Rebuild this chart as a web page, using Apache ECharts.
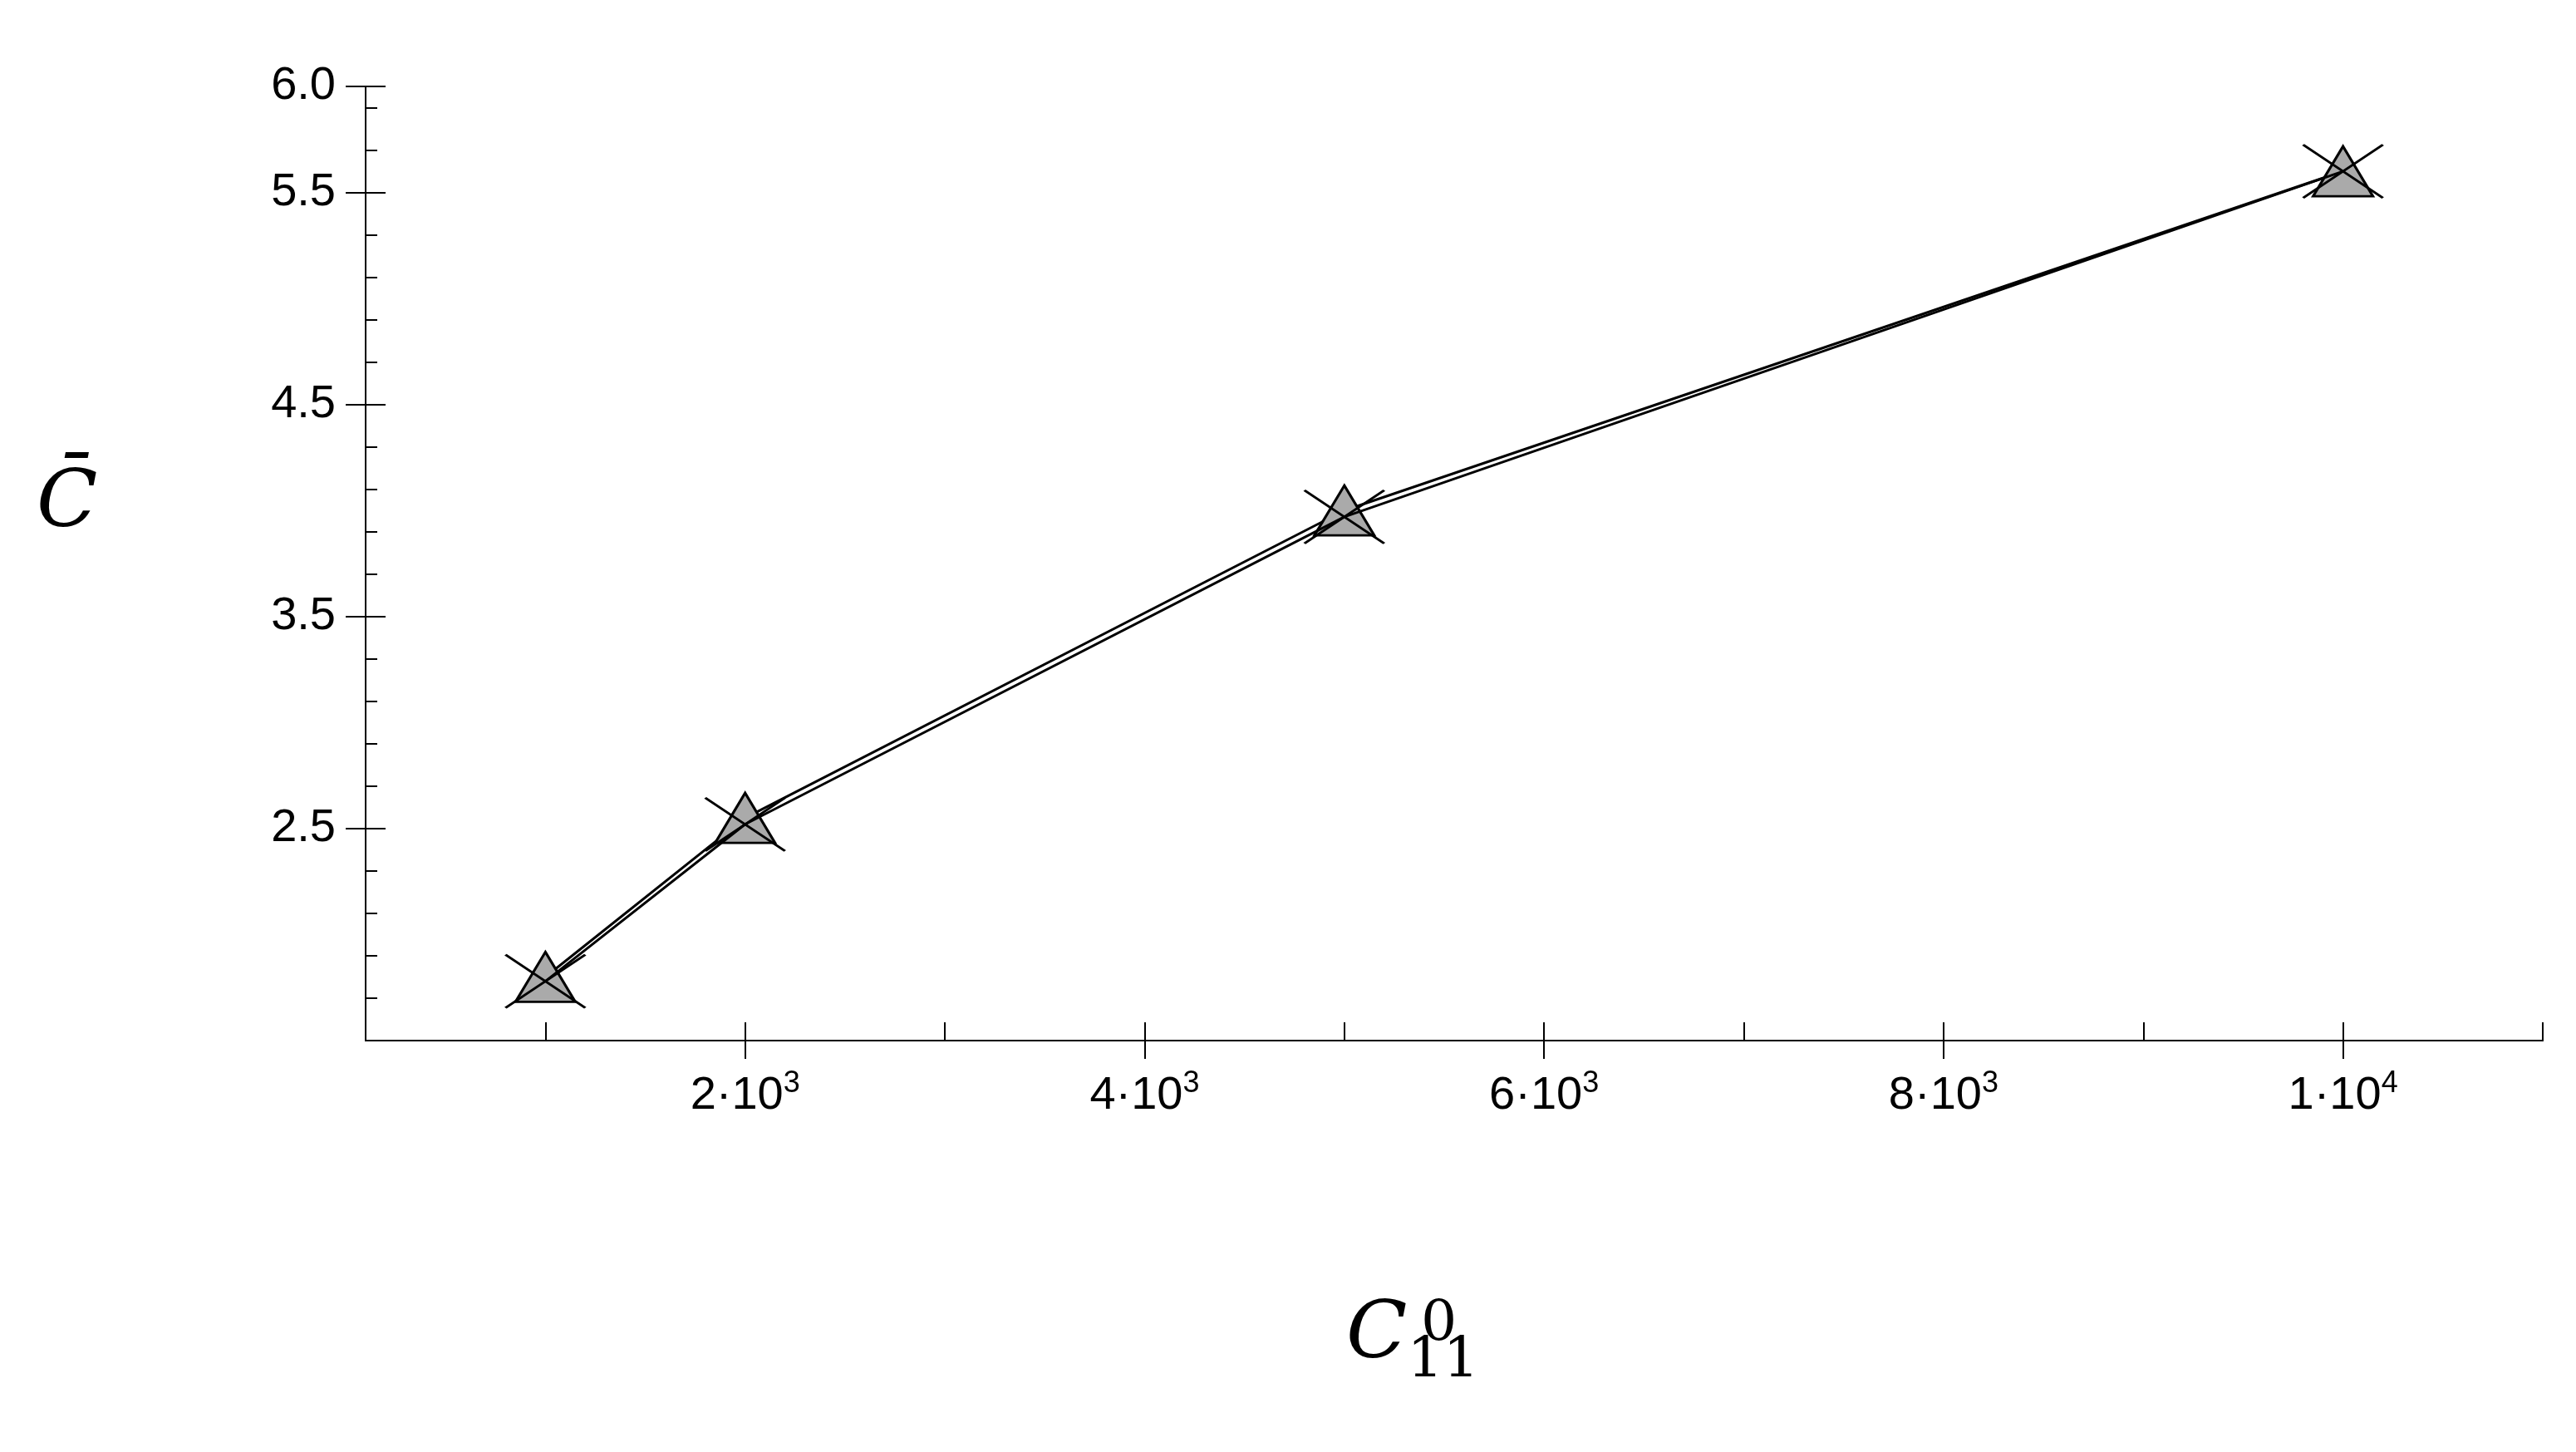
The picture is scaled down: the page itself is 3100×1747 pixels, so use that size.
<!DOCTYPE html>
<html><head><meta charset="utf-8">
<script src="https://cdn.jsdelivr.net/npm/echarts@6/dist/echarts.min.js"></script>
<style>html,body{margin:0;padding:0;background:#fff}#c{width:3100px;height:1747px}</style>
</head><body><div id="c"></div>
<script>
const xValues = [1000, 2000, 5000, 10000];
const seriesTri = [1.80, 2.55, 4.00, 5.60];
const seriesX = [1.78, 2.52, 3.97, 5.60];
const xMajorTicks = [2000, 4000, 6000, 8000, 10000];
const xMinorTicks = [1000, 3000, 5000, 7000, 9000, 11000];
const xTickLabels = {2000:'2', 4000:'4', 6000:'6', 8000:'8', 10000:'1'};
const xTickExp = {2000:'3', 4000:'3', 6000:'3', 8000:'3', 10000:'4'};

const font = 'Liberation Sans, Arial, sans-serif';
const grid = {left: 440, right: 40, top: 104, bottom: 495};
const xPath = 'path://M0,0 L96,64 M96,0 L0,64';
const chart = echarts.init(document.getElementById('c'));
const xBase = {type:'value', min:100, max:11000, splitLine:{show:false},
  axisLine:{lineStyle:{color:'#000', width:2}}};
const yBase = {type:'value', min:1.5, max:6.0, interval:1, splitLine:{show:false},
  axisLine:{lineStyle:{color:'#000', width:2}}};
chart.setOption({
  animation:false,
  grid: grid,
  xAxis: [
    Object.assign({}, xBase, {position:'bottom',
      axisTick:{show:true, inside:false, length:22, customValues:xMajorTicks, lineStyle:{color:'#000',width:2}},
      axisLabel:{customValues:xMajorTicks, margin:34, fontFamily:font, fontSize:56, color:'#000',
        formatter: v => '{b|' + xTickLabels[v] + '·10}{s|' + xTickExp[v] + '}',
        rich:{b:{fontFamily:font,fontSize:56,color:'#000'}, s:{fontFamily:font,fontSize:36,color:'#000',verticalAlign:'top',padding:[0,0,30,0]}}}}),
    Object.assign({}, xBase, {position:'bottom',
      axisTick:{show:true, inside:true, length:22, customValues:xMajorTicks.concat(xMinorTicks), lineStyle:{color:'#000',width:2}},
      axisLabel:{show:false}})
  ],
  yAxis: [
    Object.assign({}, yBase, {position:'left',
      axisTick:{show:true, inside:false, length:24, lineStyle:{color:'#000',width:2}},
      axisLabel:{margin:36, fontFamily:font, fontSize:56, color:'#000', formatter: v => v.toFixed(1),
        showMinLabel:false}}),
    Object.assign({}, yBase, {position:'left',
      axisTick:{show:true, inside:true, length:24, lineStyle:{color:'#000',width:2}},
      minorTick:{show:true, splitNumber:5, length:14, lineStyle:{color:'#000',width:2}},
      axisLabel:{show:false}})
  ],
  series: [
    {type:'line', xAxisIndex:0, yAxisIndex:0, data: xValues.map((x,i)=>[x, seriesTri[i]]),
      lineStyle:{color:'#000', width:3}, symbol:'triangle', symbolSize:[72,60],
      itemStyle:{color:'#aaaaaa', borderColor:'#000', borderWidth:3}, z:3},
    {type:'line', xAxisIndex:0, yAxisIndex:0, data: xValues.map((x,i)=>[x, seriesX[i]]),
      lineStyle:{color:'#000', width:3}, symbol:xPath, symbolSize:[96,64],
      itemStyle:{color:'none', borderColor:'#000', borderWidth:3}, z:4}
  ],
  graphic: [
    {type:'text', left:44, top:560, style:{text:'C̄', fontFamily:'DejaVu Serif, serif', fontStyle:'italic', fontSize:96, fill:'#000'}},
    {type:'text', left:1620, top:1560, style:{text:'{c|C}{sub|11}', rich:{c:{fontFamily:'DejaVu Serif, serif', fontStyle:'italic', fontSize:96, fill:'#000'}, sub:{fontFamily:'DejaVu Serif, serif', fontSize:68, fill:'#000', padding:[60,0,0,0]}}}},
    {type:'text', left:1710, top:1560, style:{text:'0', fontFamily:'DejaVu Serif, serif', fontSize:68, fill:'#000'}}
  ]
});
</script></body></html>
